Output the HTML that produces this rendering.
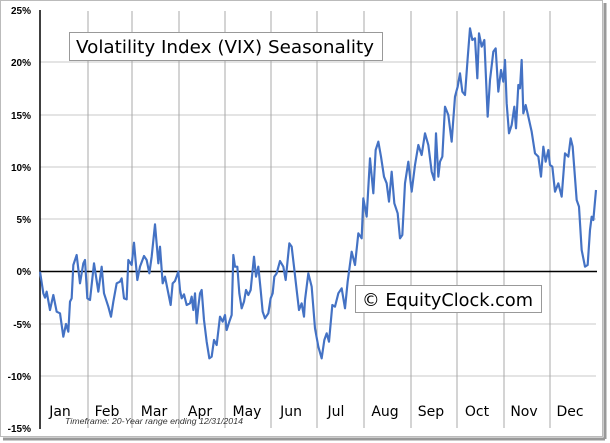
<!DOCTYPE html>
<html><head><meta charset="utf-8"><style>
html,body{margin:0;padding:0;background:#fff;}
svg{display:block;font-family:"DejaVu Sans","Liberation Sans",sans-serif;}
</style></head><body>
<svg width="610" height="443" viewBox="0 0 610 443" xmlns="http://www.w3.org/2000/svg">
<rect x="0.5" y="0.5" width="602" height="436" fill="#fff" stroke="#bbb"/>
<line x1="3" y1="439" x2="605" y2="439" stroke="#999" stroke-width="3"/>
<line x1="605" y1="3" x2="605" y2="439" stroke="#999" stroke-width="3"/>
<g stroke="#c8c8c8" stroke-width="1">
<line x1="40" y1="62" x2="596" y2="62"/><line x1="40" y1="115" x2="596" y2="115"/>
<line x1="40" y1="167" x2="596" y2="167"/><line x1="40" y1="219" x2="596" y2="219"/>
<line x1="40" y1="324" x2="596" y2="324"/><line x1="40" y1="376" x2="596" y2="376"/>
</g>
<g stroke="#a8a8a8" stroke-width="1">
<line x1="88" y1="11" x2="88" y2="428"/><line x1="132" y1="11" x2="132" y2="428"/>
<line x1="179" y1="11" x2="179" y2="428"/><line x1="225" y1="11" x2="225" y2="428"/>
<line x1="271" y1="11" x2="271" y2="428"/><line x1="317" y1="11" x2="317" y2="428"/>
<line x1="364" y1="11" x2="364" y2="428"/><line x1="411" y1="11" x2="411" y2="428"/>
<line x1="457" y1="11" x2="457" y2="428"/><line x1="504" y1="11" x2="504" y2="428"/>
<line x1="550" y1="11" x2="550" y2="428"/>
</g>
<line x1="40" y1="10" x2="40" y2="429" stroke="#000" stroke-width="1.5"/>
<line x1="40" y1="271.5" x2="597" y2="271.5" stroke="#000" stroke-width="1.5"/>
<g font-size="10" font-weight="bold" text-anchor="end" fill="#000" font-family="Liberation Sans,sans-serif">
<text x="31" y="14">25%</text><text x="31" y="66">20%</text><text x="31" y="119">15%</text>
<text x="31" y="171">10%</text><text x="31" y="223">5%</text><text x="31" y="275">0%</text>
<text x="31" y="328">-5%</text><text x="31" y="380">-10%</text><text x="31" y="432">-15%</text>
</g>
<g font-size="14" text-anchor="middle" fill="#000">
<text x="60" y="416">Jan</text><text x="107" y="416">Feb</text><text x="154" y="416">Mar</text>
<text x="200" y="416">Apr</text><text x="247" y="416">May</text><text x="291" y="416">Jun</text>
<text x="336" y="416">Jul</text><text x="385" y="416">Aug</text><text x="431" y="416">Sep</text>
<text x="477" y="416">Oct</text><text x="524" y="416">Nov</text><text x="570" y="416">Dec</text>
</g>
<text x="65" y="424" font-size="8.5" font-style="italic" fill="#333" font-family="Liberation Sans,sans-serif" textLength="178" lengthAdjust="spacingAndGlyphs">Timeframe: 20-Year range ending 12/31/2014</text>
<g fill="none" stroke="#4472c4" stroke-width="6.5" stroke-linejoin="round">
<polyline transform="scale(0.33333)" points="120,815 130,880 135,893 140,875 150,930 160,885 170,935 180,940 190,1010 198,972 205,995 210,905 215,895 220,795 230,765 240,850 250,790 255,780 262,895 270,900 282,790 295,875 305,800 312,880 325,920 333,950 340,905 350,850 360,845 365,835 372,895 380,898 385,780 395,795 402,728 412,840 420,800 432,768 440,780 448,820 455,770 465,673 475,790 480,740 488,850 495,830 503,870 512,915 518,850 525,843 535,815 540,870 545,895 552,883 560,915 570,910 575,890 580,930 585,880 590,970 595,920 600,880 605,870 612,960 620,1025 628,1075 635,1070 642,1020 650,1035 660,950 668,965 675,945 680,990 688,965 695,945 700,765 705,800 712,800 718,880 725,925 732,905 738,870 745,885 752,870 762,770 768,830 775,800 782,870 788,935 795,955 805,940 812,895 818,880 823,830 830,820 840,783 850,800 857,840 868,730 875,740 882,800 890,870 897,930 905,910 912,950 915,900"/>
<polyline transform="translate(305,0) scale(0.33333)" points="0,900 10,820 20,860 30,985 40,1040 50,1075 58,1020 65,1000 72,1025 82,915 90,920 100,880 110,865 120,925 128,845 140,755 150,795 160,700 170,715 175,595 185,650 195,475 205,580 212,450 220,425 228,470 237,530 245,550 252,605 260,515 268,610 278,640 285,715 292,705 300,550 310,485 320,575 330,495 340,435 350,465 360,400 370,435 380,515 388,540 393,400 400,530 405,485 412,470 420,320 430,345 440,425 450,290 458,260 465,220 472,275 480,285 488,175 495,85 502,120 510,115 517,235 522,100 530,140 538,120 548,350 555,240 565,155 572,145 580,275 588,210 595,245 600,180 605,310 612,400 620,375 628,320 633,385 640,255 645,265 650,180 655,340 662,315 670,350 680,395 690,460 700,470 708,530 715,440 722,485 730,450 735,495 742,500 750,575 760,550 770,590 780,460 790,470 797,415 803,440 815,600 822,620 830,750 840,800 848,795 855,690 860,650 865,660 873,570"/>
</g>
<rect x="69.5" y="32.5" width="313" height="28" fill="#fff" stroke="#999"/>
<text x="76" y="53" font-size="18" fill="#000" textLength="298" lengthAdjust="spacingAndGlyphs">Volatility Index (VIX) Seasonality</text>
<rect x="355.5" y="285.5" width="186" height="27" fill="#fff" stroke="#999"/>
<text x="362" y="306" font-size="18" fill="#000" textLength="171" lengthAdjust="spacingAndGlyphs">© EquityClock.com</text>
</svg>
</body></html>
